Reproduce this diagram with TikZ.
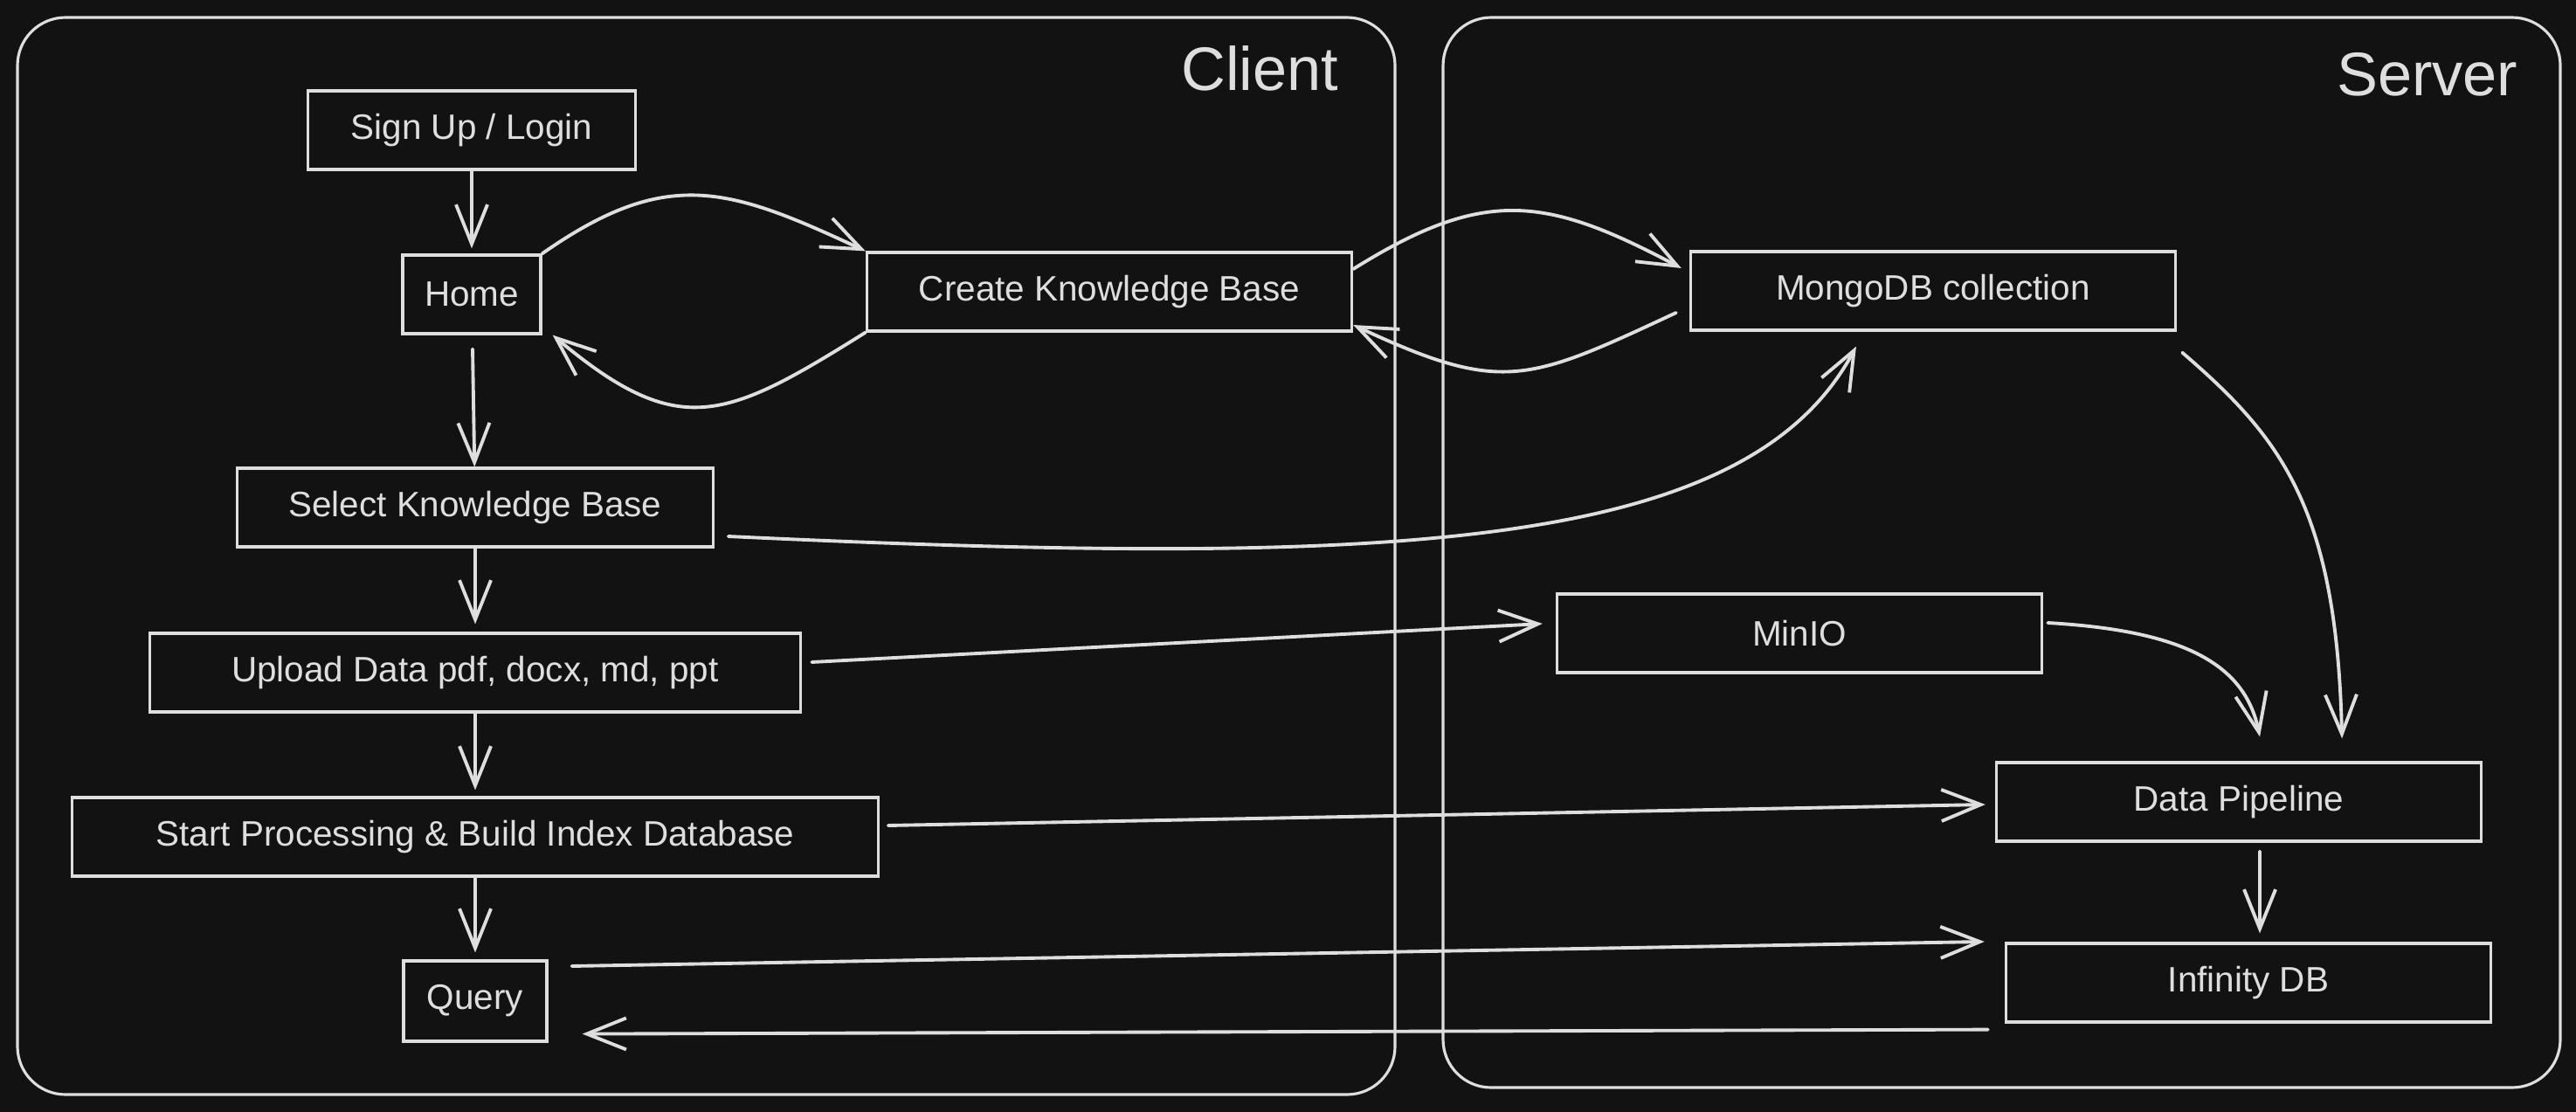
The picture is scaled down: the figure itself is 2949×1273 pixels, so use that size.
\documentclass[tikz,border=0pt]{standalone}
\usepackage{fontspec}
\setmainfont{Liberation Sans}
\usepackage{xcolor}
\usepackage{tikz}
\usetikzlibrary{arrows.meta,positioning,calc}
\definecolor{boardbg}{RGB}{18,18,18}
\definecolor{chalk}{RGB}{222,222,222}

\begin{document}
\begin{tikzpicture}[
    x=0.01cm, y=-0.01cm,
    font=\fontsize{11.5}{14}\selectfont,
    box/.style={rectangle, draw=chalk, line width=0.9pt, fill=boardbg, text=chalk, inner sep=0pt, minimum height=0.9cm},
    panel/.style={draw=chalk, line width=0.9pt, rounded corners=0.55cm},
    paneltitle/.style={text=chalk, font=\fontsize{20}{24}\selectfont, inner sep=0pt},
    arrow/.style={->, >={Straight Barb[length=4.5mm,width=3.6mm]}, draw=chalk, line width=1.1pt, line cap=round}
]
    \fill[boardbg] (0,0) rectangle (2949,1273);
    \useasboundingbox (0,0) rectangle (2949,1273);

    % --- Left: Client ---
    \draw[panel] (20,20) rectangle (1597,1253);
    \node[paneltitle, anchor=base east] (clienttitle) at (1533,104) {Client};

    \node[box, minimum width=3.74cm] (signup) at (540,149) {Sign Up / Login};
    \node[box, minimum width=1.58cm] (home) at (540,337) {Home};
    \node[box, minimum width=5.55cm] (createkb) at (1270,334) {Create Knowledge Base};
    \node[box, minimum width=5.44cm] (selectkb) at (544,581) {Select Knowledge Base};
    \node[box, minimum width=7.45cm] (upload) at (544,770) {Upload Data pdf, docx, md, ppt};
    \node[box, minimum width=9.22cm] (startproc) at (544,958) {Start Processing \& Build Index Database};
    \node[box, minimum width=1.64cm, minimum height=0.92cm] (query) at (544,1146) {Query};

    % --- Right: Server ---
    \draw[panel] (1652,20) rectangle (2931,1245);
    \node[paneltitle, anchor=base east] (servertitle) at (2883,110) {Server};

    \node[box, minimum width=5.55cm] (mongo) at (2213,333) {MongoDB collection};
    \node[box, minimum width=5.55cm] (minio) at (2060,725) {MinIO};
    \node[box, minimum width=5.55cm] (pipeline) at (2563,918) {Data Pipeline};
    \node[box, minimum width=5.55cm] (infinity) at (2574,1125) {Infinity DB};

    % Client flow
    \draw[arrow, shorten >=0.06cm] (signup) -- (home);
    \draw[arrow, shorten <=0.16cm] (home) -- (selectkb);
    \draw[arrow, shorten >=0.09cm] (selectkb) -- (upload);
    \draw[arrow, shorten >=0.07cm] (upload) -- (startproc);
    \draw[arrow, shorten >=0.08cm] (startproc) -- (query);

    \draw[arrow] (home.north east) to[out=35, in=155, looseness=1.2] (createkb.north west);
    \draw[arrow] (createkb.south west) to[out=-148, in=-40, looseness=1.35] ([xshift=0.12cm]home.south east);

    % Client to server
    \draw[arrow] ([yshift=0.26cm]createkb.east) to[out=32, in=152, looseness=1.2] ([xshift=-0.09cm, yshift=0.26cm]mongo.west);
    \draw[arrow] ([xshift=-0.15cm, yshift=-0.25cm]mongo.west) to[out=-155, in=-25, looseness=1.3] ([yshift=-0.38cm]createkb.east);
    \draw[arrow] ([xshift=0.16cm, yshift=-0.33cm]selectkb.east) .. controls (1600,650) and (2000,630) .. ([xshift=-0.88cm, yshift=-0.17cm]mongo.south);
    \draw[arrow] ([xshift=0.11cm, yshift=0.12cm]upload.east) -- ([xshift=-0.15cm, yshift=0.11cm]minio.west);
    \draw[arrow] ([xshift=0.1cm, yshift=0.13cm]startproc.east) -- ([xshift=-0.11cm, yshift=-0.03cm]pipeline.west);
    \draw[arrow] ([xshift=0.27cm, yshift=0.4cm]query.east) -- ([xshift=-0.23cm, yshift=0.47cm]infinity.west);
    \draw[arrow] ([xshift=-0.19cm, yshift=-0.07cm]infinity.south west) -- ([xshift=0.39cm, yshift=0.1cm]query.south east);

    % Server flow
    \draw[arrow] ([xshift=0.06cm, yshift=-0.24cm]mongo.south east) .. controls (2610,500) and (2675,580) .. ([xshift=1.18cm, yshift=0.26cm]pipeline.north);
    \draw[arrow] ([xshift=0.05cm, yshift=0.12cm]minio.east) .. controls (2500,722) and (2570,760) .. ([xshift=0.24cm, yshift=0.28cm]pipeline.north);
    \draw[arrow] ([xshift=0.24cm, yshift=-0.1cm]pipeline.south) -- ([xshift=0.13cm, yshift=0.1cm]infinity.north);

\end{tikzpicture}
\end{document}
